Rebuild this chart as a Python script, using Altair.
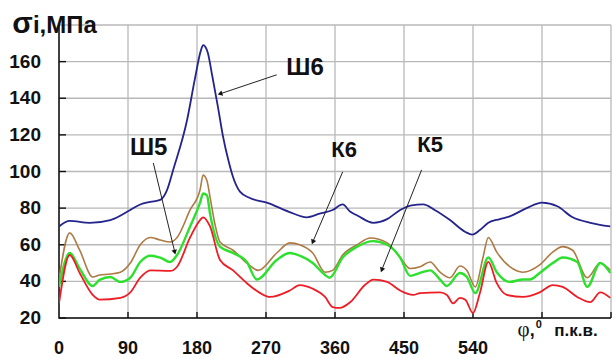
import math
import altair as alt
import pandas as pd

# ---- data (crank angle in degrees, stress in MPa) ----
sh6_x = [0, 14, 40, 67, 93, 106, 119, 132, 141, 149, 167, 177, 185, 188, 191, 194, 200, 207, 214, 221, 227, 236, 249, 271, 300, 323, 340, 357, 370, 380, 389, 410, 428, 445, 460, 475, 490, 510, 530, 539, 549, 560, 575, 588, 610, 630, 650, 670, 693, 719]
sh6_y = [70, 73, 72, 73.5, 79, 82, 83.4, 84.5, 90, 101, 128, 150, 166, 169, 168, 165, 152, 136, 119, 106, 97, 89, 85.5, 83, 78, 75, 77, 79, 82, 78, 76, 72, 74, 79, 81.5, 82, 79, 73.5, 67, 65.5, 68, 72, 74, 75.5, 80, 83, 81, 75, 72, 70]

k6_x = [0, 14, 27, 44, 53, 67, 80, 93, 106, 119, 132, 145, 154, 171, 184, 188, 193, 197, 203, 210, 227, 245, 260, 284, 301, 314, 331, 347, 357, 370, 389, 406, 428, 445, 458, 471, 484, 497, 510, 523, 532, 543, 553, 560, 571, 588, 605, 627, 644, 657, 670, 689, 706, 719]
k6_y = [41, 66.5, 57, 42.4, 43.5, 44, 45, 50, 60, 64, 62.6, 61.5, 64, 79, 90, 98, 95, 86, 72, 61.5, 57, 50, 46, 55.5, 61, 60, 55.5, 45, 46, 54.4, 60, 63.7, 61, 53, 47, 48, 50.6, 45, 42, 48.4, 46, 37, 53, 64, 56, 48, 45, 49, 56, 59, 57, 42, 50, 46]

sh5_x = [0, 14, 27, 44, 53, 67, 80, 93, 106, 119, 132, 145, 154, 171, 184, 188, 193, 197, 210, 227, 245, 258, 284, 301, 314, 331, 347, 353, 370, 389, 410, 428, 445, 458, 471, 484, 497, 506, 523, 532, 543, 560, 571, 588, 605, 614, 627, 644, 657, 676, 689, 706, 719]
sh5_y = [37, 55.5, 47, 37.5, 40.8, 42.4, 39.7, 42, 50.6, 54, 53, 50.6, 54.4, 70, 83, 88, 87, 77, 59, 55.5, 50.6, 41, 51.7, 55.5, 54, 50, 43.5, 42, 53, 59, 62, 60, 53, 43, 44.6, 46, 41, 37.5, 44.6, 42.4, 33.6, 53, 45, 39.7, 41, 41, 44.6, 50, 53, 50.6, 37, 50, 44.6]

k5_x = [0, 14, 27, 44, 53, 80, 93, 106, 119, 145, 154, 171, 184, 188, 197, 210, 227, 245, 262, 275, 301, 314, 331, 347, 357, 366, 380, 399, 410, 428, 445, 462, 471, 497, 506, 514, 523, 530, 540, 549, 560, 571, 584, 605, 627, 644, 657, 676, 693, 706, 719]
k5_y = [28, 54.4, 44.6, 32.6, 30, 31, 34, 42, 46, 45.7, 48, 64, 73.5, 75, 70, 51.7, 46, 39, 33.7, 31.5, 35, 38, 36, 31.5, 26, 25.5, 28.7, 38, 41, 39.7, 35, 32.6, 33.6, 34, 32.6, 28, 31, 30, 22.7, 33.6, 50.6, 39, 32.6, 31.5, 34, 38, 37, 31.5, 28.7, 34, 31]

x_ticks = [0, 90, 180, 270, 360, 450, 540, 630, 720]
y_ticks = [20, 40, 60, 80, 100, 120, 140, 160, 180]

# annotations: label, label position, arrow start, arrow end
ann_label = ["Ш6", "Ш5", "К6", "К5"]
ann_lx = [321, 117, 372, 484]
ann_ly = [156.6, 112.9, 111.8, 114.5]
ann_size = [24, 24, 22, 22]
arr_x1 = [284, 123, 370, 473]
arr_y1 = [152.8, 104.7, 99.8, 100.9]
arr_x2 = [210, 151, 331, 421]
arr_y2 = [142.4, 56, 61.5, 46.2]

# axis titles (placed in data units, outside the plot frame)
yt_text = ["σ", "i,МПа"]
yt_x = [-61, -34]
yt_y = [175.7, 175.7]
yt_fs = [30, 24]
xt_text = ["φ", ",", "0", "п.к.в."]
xt_x = [598, 614, 622, 646]
xt_y = [10.3, 10.3, 14.5, 10.3]
xt_fs = [21, 18, 11, 17]

W, H = 552, 293
XD, YD = (0, 720), (20, 180)
PXX = W / (XD[1] - XD[0])
PXY = H / (YD[1] - YD[0])

xs = alt.Scale(domain=list(XD), nice=False, zero=False)
ys = alt.Scale(domain=list(YD), nice=False, zero=False)

FONT = "Liberation Sans"
INK = "#111111"
GRID = "#b8b8b8"


def X(f, **kw):
    return alt.X(f, scale=xs, title=None, **kw)


def Y(f, **kw):
    return alt.Y(f, scale=ys, title=None, **kw)


# polylines for grid, axis lines and inward ticks (two points per segment)
pts = []
for i, v in enumerate(x_ticks):
    pts += [{"id": f"v{i}", "k": "grid", "o": 0, "px": v, "py": YD[0]},
            {"id": f"v{i}", "k": "grid", "o": 1, "px": v, "py": YD[1]}]
for i, v in enumerate(y_ticks):
    pts += [{"id": f"h{i}", "k": "grid", "o": 0, "px": XD[0], "py": v},
            {"id": f"h{i}", "k": "grid", "o": 1, "px": XD[1], "py": v}]
for i, v in enumerate(x_ticks[1:]):
    pts += [{"id": f"tx{i}", "k": "tick", "o": 0, "px": v, "py": YD[0]},
            {"id": f"tx{i}", "k": "tick", "o": 1, "px": v, "py": YD[0] + 6 / PXY}]
for i, v in enumerate(y_ticks[:-1]):
    pts += [{"id": f"ty{i}", "k": "tick", "o": 0, "px": XD[0], "py": v},
            {"id": f"ty{i}", "k": "tick", "o": 1, "px": XD[0] + 7 / PXX, "py": v}]
pts += [{"id": "axx", "k": "axis", "o": 0, "px": XD[1], "py": YD[0]},
        {"id": "axx", "k": "axis", "o": 1, "px": XD[0], "py": YD[0]},
        {"id": "axx", "k": "axis", "o": 2, "px": XD[0], "py": YD[1]}]
frame = pd.DataFrame(pts)

kinds = ["grid", "tick", "axis"]
layers = [
    alt.Chart(frame).mark_line(strokeCap="butt").encode(
        x=X("px:Q", axis=None), y=Y("py:Q", axis=None), detail="id:N", order="o:Q",
        color=alt.Color("k:N", scale=alt.Scale(domain=kinds, range=[GRID, INK, INK]),
                        legend=None),
        strokeWidth=alt.StrokeWidth("k:N", scale=alt.Scale(domain=kinds, range=[1.3, 1.5, 2.2]),
                                    legend=None),
    )
]


def series(xv, yv, color, width):
    df = pd.DataFrame({"phi": xv, "s": yv})
    return alt.Chart(df).mark_line(
        color=color, strokeWidth=width, interpolate="monotone", clip=True
    ).encode(x=X("phi:Q"), y=Y("s:Q"))


layers += [
    series(k6_x, k6_y, "#ad7a44", 1.6),
    series(sh5_x, sh5_y, "#2ee02e", 2.4),
    series(k5_x, k5_y, "#ee1c24", 1.8),
    series(sh6_x, sh6_y, "#24248c", 1.8),
]

# tick labels
xl = pd.DataFrame({"v": x_ticks[:7], "t": [str(v) for v in x_ticks[:7]], "yy": [YD[0]] * 7})
yl = pd.DataFrame({"v": y_ticks[:8], "t": [str(v) for v in y_ticks[:8]], "xx": [XD[0]] * 8})
layers.append(alt.Chart(xl).mark_text(font=FONT, fontWeight="bold", color=INK, fontSize=18,
                                      align="center", baseline="top", dy=22).encode(
    x=X("v:Q"), y=Y("yy:Q"), text="t:N"))
layers.append(alt.Chart(yl).mark_text(font=FONT, fontWeight="bold", color=INK, fontSize=19,
                                      align="right", baseline="middle", dx=-18).encode(
    x=X("xx:Q"), y=Y("v:Q"), text="t:N"))

# arrows
arr = pd.DataFrame({"x1": arr_x1, "y1": arr_y1, "x2": arr_x2, "y2": arr_y2})
arr["ang"] = [
    (math.degrees(math.atan2((b - a) * PXX, (d - c) * PXY)) + 360) % 360
    for a, b, c, d in zip(arr_x1, arr_x2, arr_y1, arr_y2)
]
layers.append(alt.Chart(arr).mark_rule(color="#222222", strokeWidth=1).encode(
    x=X("x1:Q"), y=Y("y1:Q"), x2="x2:Q", y2="y2:Q"))
layers.append(alt.Chart(arr).mark_point(shape="triangle-up", filled=True, size=30,
                                        color=INK, opacity=1).encode(
    x=X("x2:Q"), y=Y("y2:Q"), angle=alt.Angle("ang:Q", scale=None)))

ann = pd.DataFrame({"t": ann_label, "x": ann_lx, "y": ann_ly, "fs": ann_size})
layers.append(alt.Chart(ann).mark_text(font=FONT, fontWeight="bold", color=INK,
                                       baseline="middle", align="center").encode(
    x=X("x:Q"), y=Y("y:Q"), text="t:N", size=alt.Size("fs:Q", scale=None, legend=None)))

yt = pd.DataFrame({"t": yt_text, "x": yt_x, "y": yt_y, "fs": yt_fs})
layers.append(alt.Chart(yt).mark_text(font=FONT, fontWeight="bold", color=INK,
                                      align="left", baseline="alphabetic").encode(
    x=X("x:Q"), y=Y("y:Q"), text="t:N", size=alt.Size("fs:Q", scale=None, legend=None)))

xt = pd.DataFrame({"t": xt_text, "x": xt_x, "y": xt_y, "fs": xt_fs})
layers.append(alt.Chart(xt.iloc[[0]]).mark_text(font="Liberation Serif", color=INK,
                                               align="left", baseline="alphabetic").encode(
    x=X("x:Q"), y=Y("y:Q"), text="t:N", size=alt.Size("fs:Q", scale=None, legend=None)))
layers.append(alt.Chart(xt.iloc[1:]).mark_text(font=FONT, fontWeight="bold", color=INK,
                                              align="left", baseline="alphabetic").encode(
    x=X("x:Q"), y=Y("y:Q"), text="t:N", size=alt.Size("fs:Q", scale=None, legend=None)))

chart = alt.layer(*layers).properties(
    width=W, height=H,
    autosize=alt.AutoSizeParams(type="none"),
    padding={"left": 59, "top": 25, "right": 2, "bottom": 41},
    background="white",
).configure_view(strokeWidth=0)

chart.save("out.html", embed_options={"renderer": "svg", "actions": False})
